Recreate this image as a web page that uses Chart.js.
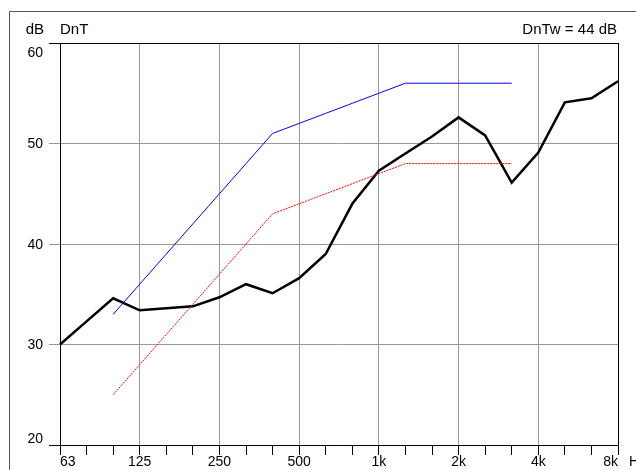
<!DOCTYPE html>
<html>
<head>
<meta charset="utf-8">
<title>DnT</title>
<script src="https://cdn.jsdelivr.net/npm/chart.js@4.4.1/dist/chart.umd.min.js"></script>
<style>
  html, body { margin: 0; padding: 0; background: #fff; }
  canvas { display: block; }
</style>
</head>
<body>
<canvas id="dntChart" width="636" height="470"></canvas>
<script>
// Third-octave bands, 63 Hz .. 8 kHz
const bands = ["63", "80", "100", "125", "160", "200", "250", "315", "400", "500", "630",
    "800", "1k", "1.25k", "1.6k", "2k", "2.5k", "3.15k", "4k", "5k", "6.3k", "8k"];

// Measured DnT (black)
const measured = [30.0, 32.3, 34.6, 33.4, 33.6, 33.8, 34.7, 36.0, 35.1, 36.6, 39.0,
    44.0, 47.3, 49.0, 50.7, 52.6, 50.8, 46.1, 49.1, 54.1, 54.5, 56.2];

// Reference curve (blue), 100 .. 3150 Hz
const reference = [null, null, 33, 36, 39, 42, 45, 48, 51, 52, 53,
    54, 55, 56, 56, 56, 56, 56, null, null, null, null];

// Shifted reference curve (red dotted)
const shifted = [null, null, 25, 28, 31, 34, 37, 40, 43, 44, 45,
    46, 47, 48, 48, 48, 48, 48, null, null, null, null];

// Axis labels
const xTickLabels = ["63", "125", "250", "500", "1k", "2k", "4k", "8k"];
const yTicks = [20, 30, 40, 50, 60];

const FONT = "14px 'Liberation Sans', Arial, sans-serif";
const TITLE_FONT = "15px 'Liberation Sans', Arial, sans-serif";
const GRID = "#999";

// Frame + texts
const textPlugin = {
    id: "texts",
    beforeDraw(chart) {
        const ctx = chart.ctx;
        ctx.save();
        ctx.strokeStyle = "#555";
        ctx.lineWidth = 1;
        ctx.strokeRect(9.5, 11.5, 700, 600);
        ctx.restore();
    },
    afterDraw(chart) {
        const ctx = chart.ctx;
        const xs = chart.scales.x;
        const ys = chart.scales.y;
        ctx.save();
        ctx.font = FONT;
        ctx.fillStyle = "#000";
        ctx.textBaseline = "middle";

        // y labels
        ctx.textAlign = "right";
        yTicks.forEach((v) => {
            let y = ys.getPixelForValue(v);
            if (v === 60) y += 10;
            else if (v === 20) y -= 6;
            else y += 1;
            ctx.fillText(String(v), 43, y);
        });

        ctx.font = TITLE_FONT;
        ctx.fillText("dB", 44, 30);
        ctx.textAlign = "left";
        ctx.fillText("DnT", 60, 30);
        ctx.textAlign = "right";
        ctx.fillText("DnTw = 44 dB", 617, 30);

        // x labels (octaves)
        ctx.font = FONT;
        xTickLabels.forEach((lab, i) => {
            const x = xs.getPixelForValue(i * 3);
            if (i === 0) {
                ctx.textAlign = "left";
                ctx.fillText(lab, x, 462);
            } else if (i === xTickLabels.length - 1) {
                ctx.textAlign = "right";
                ctx.fillText(lab, x, 462);
                ctx.textAlign = "left";
                ctx.fillText("Hz", x + 11, 462);
            } else {
                ctx.textAlign = "center";
                ctx.fillText(lab, x, 462);
            }
        });
        ctx.restore();
    },
};

const ctx = document.getElementById("dntChart").getContext("2d");
new Chart(ctx, {
    type: "line",
    data: {
        labels: bands,
        datasets: [
            {
                label: "Reference",
                data: reference,
                borderColor: "#0000ff",
                borderWidth: 1,
                pointRadius: 0,
                tension: 0,
            },
            {
                label: "Shifted reference",
                data: shifted,
                borderColor: "#ff0000",
                borderWidth: 1,
                borderDash: [2, 1],
                pointRadius: 0,
                tension: 0,
            },
            {
                label: "DnT",
                data: measured,
                borderColor: "#000",
                borderWidth: 2.5,
                pointRadius: 0,
                tension: 0,
            },
        ],
    },
    options: {
        responsive: false,
        animation: false,
        devicePixelRatio: 1,
        layout: { padding: { top: 43, right: 18, left: 0, bottom: 0 } },
        plugins: {
            legend: { display: false },
            tooltip: { enabled: false },
        },
        scales: {
            x: {
                type: "category",
                offset: false,
                border: { color: "#000", width: 1 },
                grid: {
                    color: (c) => {
                        if (c.index === bands.length - 1) return "#000";
                        return c.index % 3 === 0 ? GRID : "rgba(0,0,0,0)";
                    },
                    tickColor: "#000",
                    tickLength: 10,
                    drawTicks: true,
                },
                ticks: { display: false, autoSkip: false },
                afterFit: (scale) => { scale.height = 25; },
            },
            y: {
                min: 20,
                max: 60,
                border: { color: "#000", width: 1 },
                grid: {
                    color: (c) => (c.tick && (c.tick.value === 20 || c.tick.value === 60) ? "#000" : GRID),
                    tickColor: (c) => (c.tick && (c.tick.value === 20 || c.tick.value === 60) ? "#000" : GRID),
                    tickLength: 11,
                },
                ticks: { display: false, stepSize: 10 },
                afterFit: (scale) => { scale.width = 60; },
            },
        },
    },
    plugins: [textPlugin],
});
</script>
</body>
</html>
